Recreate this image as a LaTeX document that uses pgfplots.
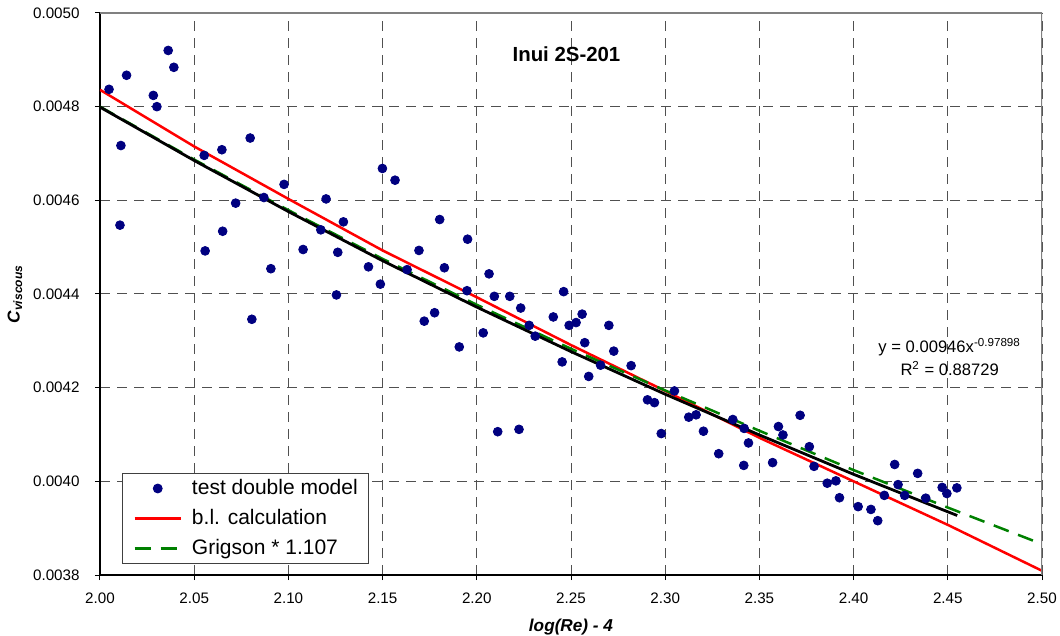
\documentclass[border=0pt]{standalone}
\usepackage{fontspec}
\setmainfont{Liberation Sans}
\usepackage{pgfplots}
\pgfplotsset{compat=1.18}

\definecolor{navy}{RGB}{0,0,128}
\definecolor{xlgreen}{RGB}{0,128,0}
\definecolor{gridgray}{RGB}{80,80,80}

\begin{document}
\begin{tikzpicture}
\begin{axis}[
    scale only axis,
    width=471pt, height=281pt,
    xmin=2, xmax=2.5,
    ymin=0.0038, ymax=0.0050,
    xtick={2.00,2.05,2.10,2.15,2.20,2.25,2.30,2.35,2.40,2.45,2.50},
    ytick={0.0038,0.0040,0.0042,0.0044,0.0046,0.0048,0.0050},
    scaled y ticks=false,
    scaled x ticks=false,
    /pgf/number format/assume math mode=true,
    xticklabel style={/pgf/number format/fixed, /pgf/number format/fixed zerofill, /pgf/number format/precision=2},
    yticklabel style={/pgf/number format/fixed, /pgf/number format/fixed zerofill, /pgf/number format/precision=4},
    tick label style={font=\fontsize{7.6}{9}\selectfont, inner sep=0pt},
    xticklabel style={anchor=center, yshift=-9pt},
    yticklabel style={anchor=east, xshift=-7.5pt},
    axis x line*=bottom, axis y line*=left,
    axis line style={black, line width=0.6pt, -},
    tick align=outside, major tick length=2.5pt,
    tick style={black, line width=0.5pt},
    grid=major,
    grid style={gridgray, line width=0.5pt, dash pattern=on 5pt off 3.5pt},
    xlabel={\bfseries\itshape log(Re) - 4},
    xlabel style={at={(axis description cs:0.5,-0.0925)}, anchor=center, font=\fontsize{8.6}{10}\selectfont},
    ylabel={\bfseries\itshape C\textsubscript{viscous}},
    ylabel style={at={(axis description cs:-0.0902,0.5)}, anchor=center, font=\fontsize{8.6}{10}\selectfont},
    legend style={at={(axis description cs:0.02335,0.01957)}, anchor=south west,
        draw=black!75, line width=0.5pt, fill=white,
        font=\fontsize{10.5}{12}\selectfont,
        inner xsep=5.5pt, inner ysep=2.5pt, row sep=5pt,
        nodes={inner sep=0pt, text height=7.8pt, text depth=2.2pt},
        /tikz/every odd column/.append style={column sep=5pt}},
    legend cell align=left,
    legend image code/.code={\draw[mark repeat=2,mark phase=2,#1] plot coordinates {(0pt,0pt) (11.5pt,0pt) (23pt,0pt)};},
]

% measured points
\addplot[only marks, mark=*, mark size=2.2pt, navy, mark options={draw=navy, fill=navy}] coordinates {
    (2.0048,0.004837) (2.0141,0.004867) (2.0283,0.004824) (2.0302,0.004800)
    (2.0362,0.004920) (2.0392,0.004884) (2.0111,0.004717) (2.0106,0.004547)
    (2.0553,0.004696) (2.0647,0.004708) (2.0797,0.004733) (2.0558,0.004492)
    (2.0651,0.004534) (2.0720,0.004594) (2.0870,0.004606) (2.0907,0.004454)
    (2.0806,0.004346) (2.0977,0.004634) (2.1078,0.004495) (2.1172,0.004537)
    (2.1200,0.004603) (2.1292,0.004554) (2.1262,0.004489) (2.1255,0.004398)
    (2.1425,0.004458) (2.1488,0.004421) (2.1499,0.004668) (2.1566,0.004643)
    (2.1803,0.004559) (2.1951,0.004517) (2.1693,0.004493) (2.1828,0.004456)
    (2.1630,0.004452) (2.1948,0.004407) (2.2065,0.004443) (2.2093,0.004395)
    (2.2175,0.004395) (2.2233,0.004370) (2.2461,0.004405) (2.2406,0.004351)
    (2.2559,0.004357) (2.2490,0.004333) (2.2527,0.004339) (2.2701,0.004333)
    (2.2278,0.004333) (2.2310,0.004310) (2.1721,0.004342) (2.1776,0.004360)
    (2.2034,0.004317) (2.1907,0.004287) (2.2573,0.004296) (2.2727,0.004278)
    (2.2453,0.004255) (2.2657,0.004248) (2.2594,0.004224) (2.2819,0.004247)
    (2.3049,0.004193) (2.2906,0.004174) (2.2943,0.004168) (2.2979,0.004102)
    (2.3125,0.004137) (2.3164,0.004142) (2.2111,0.004106) (2.2224,0.004111)
    (2.3203,0.004107) (2.3284,0.004059) (2.3359,0.004132) (2.3419,0.004113)
    (2.3442,0.004082) (2.3417,0.004034) (2.3570,0.004040) (2.3601,0.004117)
    (2.3625,0.004099) (2.3716,0.004141) (2.3765,0.004074) (2.3790,0.004032)
    (2.3860,0.003996) (2.3906,0.004001) (2.3925,0.003965) (2.4024,0.003946)
    (2.4092,0.003940) (2.4128,0.003916) (2.4163,0.003970) (2.4218,0.004036)
    (2.4236,0.003993) (2.4271,0.003970) (2.4340,0.004017) (2.4383,0.003964)
    (2.4470,0.003987) (2.4495,0.003974) (2.4548,0.003986)
};
\addlegendentry{test double model}

\addplot[red, line width=1.25pt] coordinates {
    (2.00,0.004836) (2.05,0.004715) (2.10,0.004603) (2.15,0.004493)
    (2.20,0.004393) (2.25,0.004291) (2.30,0.004193) (2.35,0.004093)
    (2.40,0.004000) (2.45,0.003907) (2.50,0.003809)
};
\addlegendentry{b.l. calculation}

\addplot[xlgreen, line width=1.25pt, dash pattern=on 8pt off 5pt] coordinates {
    (2.00,0.004800) (2.05,0.004687) (2.10,0.004579) (2.15,0.004475)
    (2.20,0.004377) (2.25,0.004283) (2.30,0.004194) (2.35,0.004108)
    (2.40,0.004024) (2.45,0.003944) (2.50,0.003866)
};
\addlegendentry{Grigson * 1.107}

% power trendline
\addplot[black, line width=1.4pt, forget plot] coordinates {
    (2.00,0.004799) (2.05,0.004685) (2.10,0.004576) (2.15,0.004471)
    (2.20,0.004372) (2.25,0.004277) (2.30,0.004186) (2.35,0.004099)
    (2.40,0.004015) (2.45,0.003935) (2.455,0.003927)
};

\draw[gray, line width=0.6pt] (rel axis cs:0,1) -- (rel axis cs:1,1) -- (rel axis cs:1,0);

\node[font=\bfseries\fontsize{10.2}{12}\selectfont] at (axis cs:2.2476,0.004913) {Inui 2S-201};
\node[align=center, font=\fontsize{8.3}{11.5}\selectfont] at (axis cs:2.451,0.004266)
    {y = 0.00946x\textsuperscript{-0.97898}\\R\textsuperscript{2} = 0.88729};

\coordinate (SW) at (rel axis cs:0,0);
\coordinate (NE) at (rel axis cs:1,1);
\end{axis}
\pgfresetboundingbox
\path[use as bounding box] ([xshift=-50pt,yshift=-30pt]SW) rectangle ([xshift=9pt,yshift=6.5pt]NE);
\end{tikzpicture}
\end{document}
